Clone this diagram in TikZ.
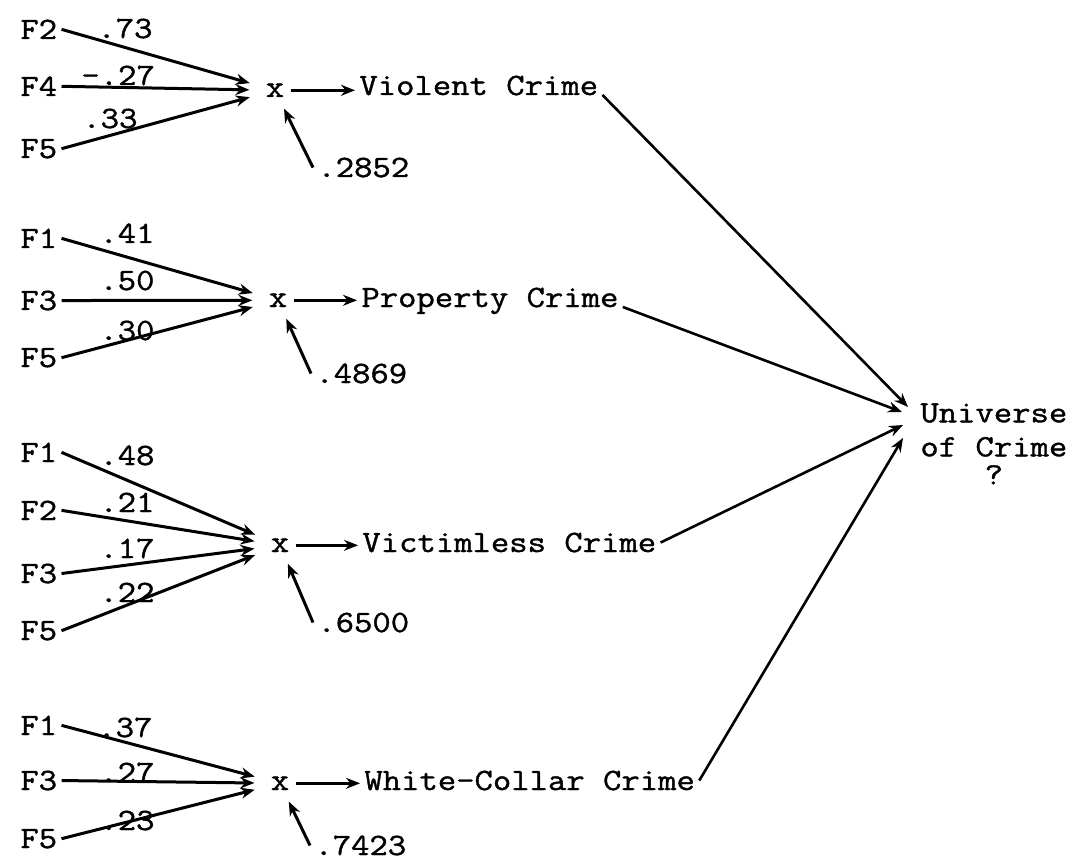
\documentclass[tikz,border=0pt]{standalone}
\usepackage{fontspec}
\newfontfamily\typewfont{Latin Modern Mono}[FakeStretch=1.15, FakeBold=1.2]
\usepackage{tikz}
\usetikzlibrary{arrows.meta}

\begin{document}
\begin{tikzpicture}[x=0.5pt, y=-0.5pt, %%% y runs downwards, units follow the scan
    every node/.style={font=\typewfont\fontsize{15.5}{17}\selectfont, inner sep=2pt},
    lbl/.style={anchor=base west},
    prod/.style={anchor=base, inner xsep=3pt},
    arr/.style={-{Stealth[length=7pt, width=5.5pt]}, line width=1.5pt},
    inarr/.style={arr, shorten >=5pt}]
      \useasboundingbox (0,0) rectangle (1071,861);

      %%% violent crime
      \node[lbl] (f2a) at (16,39)  {F2};
      \node[lbl] (f4a) at (16,96)  {F4};
      \node[lbl] (f5a) at (16,158) {F5};
      \node[lbl] at (93,38)  {.73};
      \node[lbl] at (77,85)  {-.27};
      \node[lbl] at (78,128) {.33};
      \node[prod] (xa) at (275,97) {x};
      \node[lbl] (violent) at (355,95) {Violent Crime};
      \node[lbl] (ra) at (313,177) {.2852};
      \draw[inarr] (f2a.east) -- (xa);
      \draw[inarr] (f4a.east) -- (xa);
      \draw[inarr] (f5a.east) -- (xa);
      \draw[arr] (xa.east) -- (xa.east -| violent.west);
      \draw[arr, shorten >=4pt] (ra.west) -- (xa);

      %%% property crime
      \node[lbl] (f1b) at (16,248) {F1};
      \node[lbl] (f3b) at (16,310) {F3};
      \node[lbl] (f5b) at (16,367) {F5};
      \node[lbl] at (95,243) {.41};
      \node[lbl] at (95,290) {.50};
      \node[lbl] at (95,340) {.30};
      \node[prod] (xb) at (278,307) {x};
      \node[lbl] (property) at (357,307) {Property Crime};
      \node[lbl] (rb) at (311,383) {.4869};
      \draw[inarr] (f1b.east) -- (xb);
      \draw[inarr] (f3b.east) -- (xb);
      \draw[inarr] (f5b.east) -- (xb);
      \draw[arr] (xb.east) -- (xb.east -| property.west);
      \draw[arr, shorten >=4pt] (rb.west) -- (xb);

      %%% victimless crime
      \node[lbl] (f1c) at (16,462) {F1};
      \node[lbl] (f2c) at (16,520) {F2};
      \node[lbl] (f3c) at (16,583) {F3};
      \node[lbl] (f5c) at (16,640) {F5};
      \node[lbl] at (95,465) {.48};
      \node[lbl] at (95,512) {.21};
      \node[lbl] at (95,558) {.17};
      \node[lbl] at (95,602) {.22};
      \node[prod] (xc) at (280,552) {x};
      \node[lbl] (victimless) at (358,552) {Victimless Crime};
      \node[lbl] (rc) at (313,632) {.6500};
      \draw[inarr] (f1c.east) -- (xc);
      \draw[inarr] (f2c.east) -- (xc);
      \draw[inarr] (f3c.east) -- (xc);
      \draw[inarr] (f5c.east) -- (xc);
      \draw[arr] (xc.east) -- (xc.east -| victimless.west);
      \draw[arr, shorten >=4pt] (rc.west) -- (xc);

      %%% white-collar crime
      \node[lbl] (f1d) at (16,735) {F1};
      \node[lbl] (f3d) at (16,790) {F3};
      \node[lbl] (f5d) at (16,848) {F5};
      \node[lbl] at (93,737) {.37};
      \node[lbl] at (95,782) {.27};
      \node[lbl] at (95,830) {.23};
      \node[prod] (xd) at (280,790) {x};
      \node[lbl] (whitecollar) at (360,790) {White-Collar Crime};
      \node[lbl] (rd) at (310,855) {.7423};
      \draw[inarr] (f1d.east) -- (xd);
      \draw[inarr] (f3d.east) -- (xd);
      \draw[inarr] (f5d.east) -- (xd);
      \draw[arr] (xd.east) -- (xd.east -| whitecollar.west);
      \draw[arr, shorten >=4pt] (rd.west) -- (xd);

      %%% universe of crime
      \node[anchor=north west, align=center] (univ) at (916,399) {Universe\\of Crime\\[-3pt]?};
      \coordinate (ua) at ([shift={(-8,8)}]univ.north west);
      \coordinate (ub) at ([shift={(-14,13)}]univ.north west);
      \coordinate (uc) at ([shift={(-13,26)}]univ.north west);
      \coordinate (ud) at ([shift={(-13,39)}]univ.north west);
      \draw[arr, line width=1.3pt] (violent.base east) -- (ua);
      \draw[arr, line width=1.3pt] (property.base east) -- (ub);
      \draw[arr, line width=1.3pt] (victimless.east) -- (uc);
      \draw[arr, line width=1.3pt] (whitecollar.east) -- (ud);
\end{tikzpicture}
\end{document}
